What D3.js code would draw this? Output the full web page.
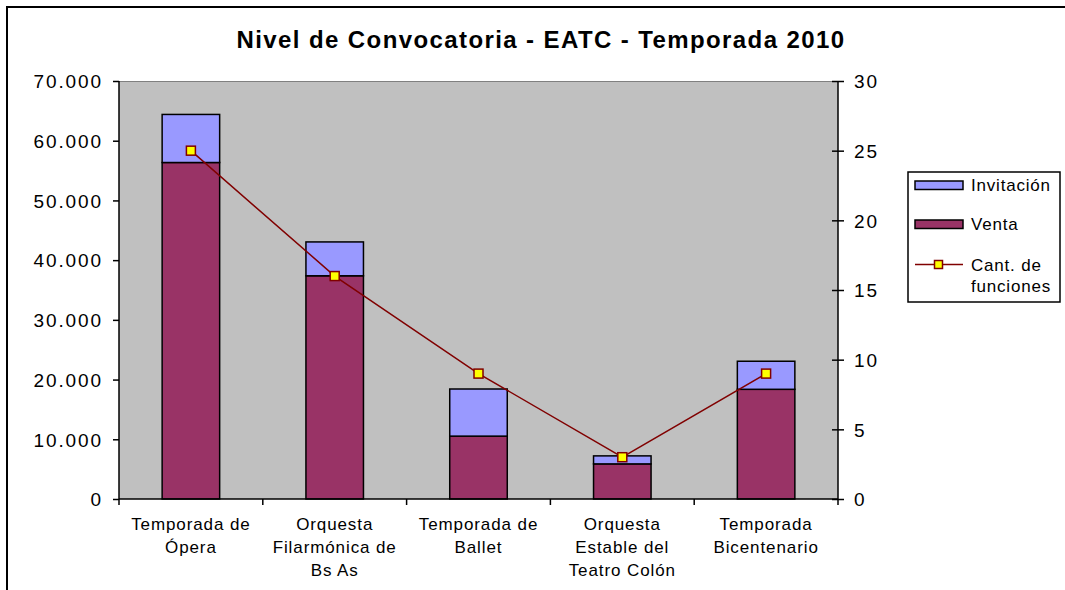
<!DOCTYPE html>
<meta charset="utf-8">
<style>
body { margin: 0; background: #fff; }
text { font-family: "Liberation Sans", Arial, sans-serif; fill: #000; }
.title { font-size: 24px; font-weight: bold; letter-spacing: 1.4px; }
.tick text { font-size: 19px; letter-spacing: 1.9px; }
.cat { font-size: 17px; letter-spacing: 0.9px; }
.leg { font-size: 17px; letter-spacing: 0.8px; }
</style>
<body>
<script src="https://cdn.jsdelivr.net/npm/d3@7"></script>
<script>

var categories = [
	["Temporada de", "Ópera"],
	["Orquesta", "Filarmónica de", "Bs As"],
	["Temporada de", "Ballet"],
	["Orquesta", "Estable del", "Teatro Colón"],
	["Temporada", "Bicentenario"]
];
var venta = [56350, 37380, 10530, 5880, 18370];
var invitacion = [8050, 5670, 7890, 1340, 4700];
var funciones = [25, 16, 9, 3, 9];
var leftTicks = [0, 10000, 20000, 30000, 40000, 50000, 60000, 70000];
var rightTicks = [0, 5, 10, 15, 20, 25, 30];

var width = 1065,
	height = 590,
	plot = {left: 119, right: 838, top: 81, bottom: 499};

var svg = d3.select("body").append("svg")
	.attr("width", width)
	.attr("height", height);

// outer chart frame (runs off the picture on the right and bottom)
svg.append("rect")
	.attr("x", 7).attr("y", 7)
	.attr("width", 1080).attr("height", 600)
	.attr("fill", "#fff")
	.attr("stroke", "#000")
	.attr("stroke-width", 2);

svg.append("text")
	.attr("class", "title")
	.attr("x", 541).attr("y", 48)
	.attr("text-anchor", "middle")
	.text("Nivel de Convocatoria - EATC - Temporada 2010");

var x = d3.scaleBand()
	.domain(d3.range(categories.length))
	.range([plot.left, plot.right])
	.paddingInner(0.6)
	.paddingOuter(0.3);

var xEdge = d3.scaleLinear()
	.domain([0, categories.length])
	.range([plot.left, plot.right]);

var y = d3.scaleLinear().domain([0, 70000]).range([plot.bottom, plot.top]);
var y2 = d3.scaleLinear().domain([0, 30]).range([plot.bottom, plot.top]);

// plot area
svg.append("rect")
	.attr("x", plot.left).attr("y", plot.top)
	.attr("width", plot.right - plot.left)
	.attr("height", plot.bottom - plot.top)
	.attr("fill", "#c0c0c0");
svg.append("line")
	.attr("x1", plot.left).attr("x2", plot.right)
	.attr("y1", plot.top + 0.5).attr("y2", plot.top + 0.5)
	.attr("stroke", "#808080");

// stacked bars
var stacks = d3.range(categories.length).map(function(i) {
	return {i: i, venta: venta[i], inv: invitacion[i]};
});

var bars = svg.append("g");
bars.selectAll(".venta")
	.data(stacks)
	.enter().append("rect")
	.attr("x", function(d) { return x(d.i); })
	.attr("width", x.bandwidth())
	.attr("y", function(d) { return y(d.venta); })
	.attr("height", function(d) { return y(0) - y(d.venta); })
	.attr("fill", "#993366")
	.attr("stroke", "#000")
	.attr("stroke-width", 1.5);

bars.selectAll(".inv")
	.data(stacks)
	.enter().append("rect")
	.attr("x", function(d) { return x(d.i); })
	.attr("width", x.bandwidth())
	.attr("y", function(d) { return y(d.venta + d.inv); })
	.attr("height", function(d) { return y(d.venta) - y(d.venta + d.inv); })
	.attr("fill", "#9999ff")
	.attr("stroke", "#000")
	.attr("stroke-width", 1.5);

// axes
var leftAxis = d3.axisLeft(y)
	.tickValues(leftTicks)
	.tickSize(6)
	.tickPadding(10)
	.tickFormat(function(d) { return d === 0 ? "0" : d3.format(",")(d).replace(/,/g, "."); });

var gl = svg.append("g")
	.attr("transform", "translate(" + plot.left + ",0)")
	.call(leftAxis);

var rightAxis = d3.axisRight(y2)
	.tickValues(rightTicks)
	.tickSize(6)
	.tickPadding(0)
	.tickFormat(d3.format("d"));

var gr = svg.append("g")
	.attr("transform", "translate(" + plot.right + ",0)")
	.call(rightAxis);
gr.selectAll(".tick line").attr("x1", -6);
gr.selectAll(".tick text").attr("x", 16);

var gb = svg.append("g")
	.attr("transform", "translate(0," + plot.bottom + ")");
gb.append("line")
	.attr("x1", plot.left).attr("x2", plot.right)
	.attr("stroke", "#000").attr("stroke-width", 1.5);
gb.selectAll(".xt")
	.data(d3.range(categories.length + 1))
	.enter().append("line")
	.attr("x1", function(d) { return xEdge(d); })
	.attr("x2", function(d) { return xEdge(d); })
	.attr("y1", 0).attr("y2", 6)
	.attr("stroke", "#000").attr("stroke-width", 1.5);

[gl, gr].forEach(function(g) {
	g.select(".domain").attr("stroke", "#000").attr("stroke-width", 1.5)
		.attr("d", "M0," + plot.top + "V" + plot.bottom);
	g.selectAll(".tick line").attr("stroke", "#000").attr("stroke-width", 1.5);
	g.selectAll(".tick text").attr("fill", "#000").attr("dy", "0.36em");
	g.attr("font-family", null).attr("font-size", null);
});

// category labels
var cats = svg.append("g");
cats.selectAll("text")
	.data(categories)
	.enter().append("text")
	.attr("class", "cat")
	.attr("text-anchor", "middle")
	.attr("x", function(d, i) { return x(i) + x.bandwidth() / 2; })
	.attr("y", 530)
	.each(function(d) {
		var t = d3.select(this);
		d.forEach(function(line, j) {
			t.append("tspan")
				.attr("x", t.attr("x"))
				.attr("dy", j === 0 ? 0 : 23)
				.text(line);
		});
	});

// line series on secondary axis
var line = d3.line()
	.x(function(d, i) { return x(i) + x.bandwidth() / 2; })
	.y(function(d) { return y2(d); });

svg.append("path")
	.datum(funciones)
	.attr("d", line)
	.attr("fill", "none")
	.attr("stroke", "#800000")
	.attr("stroke-width", 1.5);

svg.selectAll(".marker")
	.data(funciones)
	.enter().append("rect")
	.attr("x", function(d, i) { return x(i) + x.bandwidth() / 2 - 4.5; })
	.attr("y", function(d) { return y2(d) - 4.5; })
	.attr("width", 9).attr("height", 9)
	.attr("fill", "#ffff00")
	.attr("stroke", "#800000")
	.attr("stroke-width", 1.5);

// legend
var lg = svg.append("g");
lg.append("rect")
	.attr("x", 908).attr("y", 172)
	.attr("width", 152).attr("height", 130)
	.attr("fill", "#fff")
	.attr("stroke", "#000")
	.attr("stroke-width", 1.5);

var legendItems = [
	{label: ["Invitación"], fill: "#9999ff", y: 181},
	{label: ["Venta"], fill: "#993366", y: 220}
];
lg.selectAll(".sw")
	.data(legendItems)
	.enter().append("rect")
	.attr("x", 915).attr("y", function(d) { return d.y; })
	.attr("width", 48).attr("height", 8.5)
	.attr("fill", function(d) { return d.fill; })
	.attr("stroke", "#000")
	.attr("stroke-width", 1.5);
lg.selectAll(".lt")
	.data(legendItems)
	.enter().append("text")
	.attr("class", "leg")
	.attr("x", 971)
	.attr("y", function(d) { return d.y + 9.5; })
	.text(function(d) { return d.label[0]; });

lg.append("line")
	.attr("x1", 915).attr("x2", 963)
	.attr("y1", 264.5).attr("y2", 264.5)
	.attr("stroke", "#800000").attr("stroke-width", 1.5);
lg.append("rect")
	.attr("x", 934.5).attr("y", 260.5)
	.attr("width", 8).attr("height", 8)
	.attr("fill", "#ffff00")
	.attr("stroke", "#800000")
	.attr("stroke-width", 1.5);
lg.append("text").attr("class", "leg").attr("x", 971).attr("y", 271).text("Cant. de");
lg.append("text").attr("class", "leg").attr("x", 971).attr("y", 292).text("funciones");

</script>
</body>
</html>
